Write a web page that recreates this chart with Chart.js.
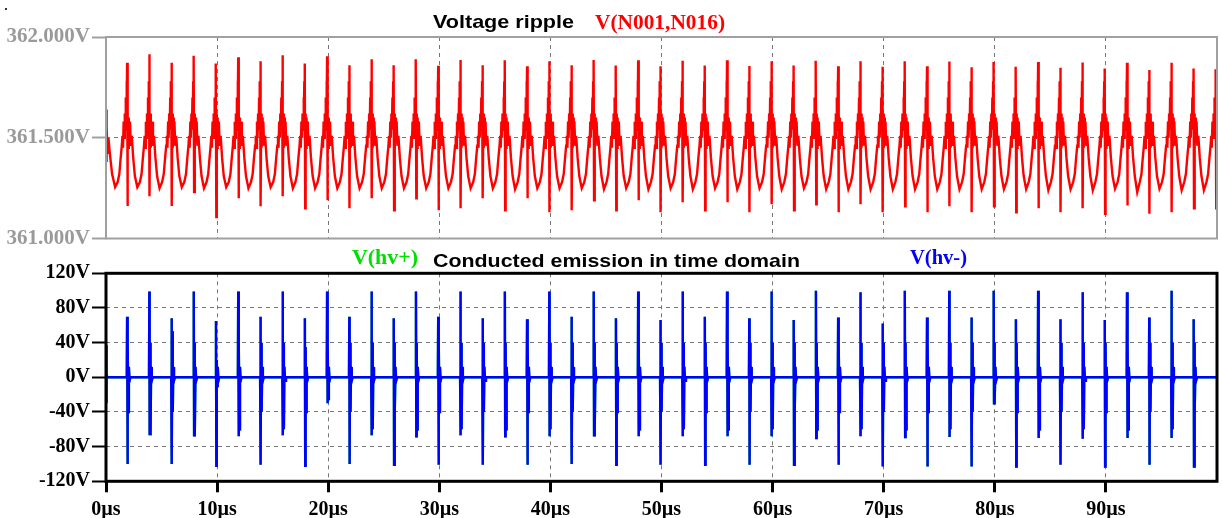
<!DOCTYPE html>
<html><head><meta charset="utf-8">
<script src="https://cdn.jsdelivr.net/npm/chart.js@4/dist/chart.umd.min.js"></script>
<style>
html,body{margin:0;padding:0;background:#fff;width:1222px;height:518px;overflow:hidden;position:relative;}
canvas{position:absolute;left:0;}
#c1{top:0;} #c2{top:245px;}
.lbl{position:absolute;white-space:nowrap;line-height:1;transform-origin:0 0;margin:0;padding:0;}
</style></head><body>
<canvas id="c1" width="1222" height="262"></canvas>
<canvas id="c2" width="1222" height="273"></canvas>
<div style="position:absolute;left:5px;top:8px;width:2px;height:2px;background:#333"></div>
<script>
// ---------------- DATA ----------------
// times of the switching events (µs)
const spikeTimes = [1.9,3.9,5.9,7.9,9.9,11.9,13.9,15.9,17.9,19.9,21.9,23.9,25.9,27.9,29.9,31.9,33.9,35.9,37.9,39.9,
  41.9,43.9,45.9,47.9,49.9,51.9,53.9,55.9,57.9,59.9,61.9,63.9,65.9,67.9,69.9,71.9,73.9,75.9,77.9,79.9,
  81.9,83.9,85.9,87.9,89.9,91.9,93.9,95.9,97.9,99.9];

// Voltage ripple V(N001,N016): peak, negative dip, valley before each event (V)
const ripplePeak = [361.872,361.915,361.872,361.907,361.869,361.900,361.880,361.910,361.869,361.905,
  361.860,361.889,361.860,361.889,361.857,361.886,361.860,361.884,361.855,361.880,
  361.860,361.886,361.858,361.884,361.855,361.882,361.858,361.884,361.856,361.880,
  361.858,361.882,361.855,361.880,361.852,361.880,361.855,361.878,361.850,361.876,
  361.852,361.876,361.848,361.874,361.844,361.872,361.836,361.872,361.844,361.840];
const rippleDip = [361.161,361.210,361.161,361.230,361.106,361.200,361.160,361.210,361.150,361.190,
  361.150,361.200,361.140,361.200,361.140,361.150,361.200,361.140,361.200,361.130,
  361.140,361.190,361.140,361.190,361.130,361.180,361.140,361.180,361.130,361.170,
  361.140,361.170,361.130,361.170,361.130,361.160,361.130,361.160,361.130,361.160,
  361.130,361.150,361.130,361.150,361.123,361.164,361.123,361.130,361.150,361.150];
const rippleValley = [361.255,361.255,361.250,361.255,361.250,361.255,361.250,361.255,361.250,361.250,
  361.250,361.250,361.250,361.250,361.250,361.250,361.250,361.250,361.245,361.250,
  361.250,361.250,361.245,361.250,361.245,361.250,361.245,361.250,361.245,361.250,
  361.245,361.250,361.245,361.245,361.245,361.245,361.245,361.245,361.245,361.245,
  361.245,361.245,361.240,361.245,361.240,361.247,361.230,361.247,361.240,361.240];
// one representative period of the ripple (offsets in µs from the event, volts)
const rippleStartT = [0, 0.03, 0.08, 0.14, 0.22, 0.35, 0.55];
const rippleStartV = [361.64, 361.38, 361.55, 361.42, 361.50, 361.42, 361.32];
const rippleRiseDt = [-0.85,-0.70,-0.58,-0.48,-0.42,-0.37,-0.31,-0.26,-0.21,-0.16,-0.12,-0.08,-0.05,-0.02];
const rippleRiseV  = [361.28,361.32,361.40,361.46,361.51,361.45,361.58,361.50,361.62,361.54,361.70,361.60,361.78,361.68];
const rippleFallDt = [0.07,0.11,0.15,0.20,0.26,0.33,0.42,0.55,0.70];
const rippleFallV  = [361.62,361.45,361.60,361.48,361.58,361.46,361.51,361.40,361.31];

// Conducted emission V(hv-): positive and negative spike extremes, ringing band (V)
const hvPos = [70,99,68,99,65,99,70,99,68,99, 70,99,68,99,70,99,68,99,67,99,
  70,99,68,99,66,99,70,99,68,99, 66,100,69,98,62,100,69,100,69,100,
  67,100,67,98,66,98,69,100,67];
const hvNeg = [-100,-67,-100,-67,-102,-68,-101,-67,-102,-30, -100,-67,-101,-68,-101,-67,-101,-68,-101,-68,
  -100,-67,-101,-68,-101,-68,-101,-68,-101,-68, -101,-70,-101,-68,-103,-69,-103,-69,-103,-30,
  -103,-70,-101,-71,-103,-70,-101,-70,-103];
const hvRingHi = [40,40,53,40,20,40,40,40,35,40, 40,40,40,40,40,40,40,40,40,40,
  40,40,40,40,40,40,40,40,40,40, 40,40,40,40,40,40,40,40,40,40,
  40,40,40,40,40,40,40,40,40];
const hvRingLo = [-40,-67,-40,-67,-10,-60,-40,-60,-40,-25, -40,-60,-40,-60,-40,-60,-40,-60,-40,-60,
  -40,-60,-40,-60,-40,-60,-40,-60,-40,-60, -40,-60,-40,-60,-40,-60,-40,-60,-40,-25,
  -40,-60,-40,-60,-40,-60,-40,-60,-40];
const hvStartT = [0, 0.02, 0.06, 0.12];
const hvStartV = [37, -30, 4, 0];
const spikeShapeDt = [-0.03, 0, 0.03, 0.07, 0.11, 0.16, 0.22, 0.30];

// axis ticks
const rippleTicks = [361.0, 361.5, 362.0];
const hvTicks = [-120,-80,-40,0,40,80,120];
const timeTicks = [0,10,20,30,40,50,60,70,80,90];

// ---------------- build datasets ----------------
const ripplePts = [];
rippleStartT.forEach((t,i)=>ripplePts.push({x:t,y:rippleStartV[i]}));
spikeTimes.forEach((ts,k)=>{
  ripplePts.push({x:ts-1.08, y:rippleValley[k]});
  rippleRiseDt.forEach((d,i)=>ripplePts.push({x:ts+d, y:rippleRiseV[i]}));
  ripplePts.push({x:ts, y:ripplePeak[k]});
  ripplePts.push({x:ts+0.03, y:rippleDip[k]});
  rippleFallDt.forEach((d,i)=>ripplePts.push({x:ts+d, y:rippleFallV[i]}));
});

const hvPts = [];
hvStartT.forEach((t,i)=>hvPts.push({x:t,y:hvStartV[i]}));
hvPos.forEach((p,k)=>{
  const ts = spikeTimes[k];
  const vals = [0, p, hvNeg[k], hvRingHi[k], hvRingLo[k], 12, -4, 0];
  spikeShapeDt.forEach((d,i)=>hvPts.push({x:ts+d, y:vals[i]}));
});
hvPts.push({x:100, y:0});

// ---------------- helpers ----------------
const SERIF = '"Liberation Serif","Times New Roman",serif';
const SANS = '"Liberation Sans",Arial,sans-serif';
function frame(color, width){
  return {id:'frame'+color.replace('#',''), afterDraw(chart){
    const a = chart.chartArea, c = chart.ctx;
    c.save(); c.strokeStyle=color; c.lineWidth=width;
    c.strokeRect(a.left, a.top, a.right-a.left, a.bottom-a.top);
    c.restore();
  }};
}
function fixTicks(values){ return s => { s.ticks = values.map(v=>({value:v})); }; }

// ---------------- top chart ----------------
new Chart(document.getElementById('c1'), {
  type:'line',
  data:{datasets:[{label:'V(N001,N016)', data:ripplePts, borderColor:'#ff0000', borderWidth:2.4,
    pointRadius:0, tension:0, fill:false}]},
  options:{
    responsive:false, animation:false, events:[],
    layout:{padding:{top:37,left:0,right:5,bottom:23.5}},
    plugins:{legend:{display:false}, tooltip:{enabled:false}},
    scales:{
      x:{type:'linear', min:0, max:100,
        afterBuildTicks: fixTicks(timeTicks),
        afterFit: s=>{ s.height = 0; },
        ticks:{display:false},
        grid:{color:'#777', lineWidth:1, drawTicks:false},
        border:{display:false, dash:[4,4]}},
      y:{type:'linear', min:361, max:362,
        afterBuildTicks: fixTicks(rippleTicks),
        afterFit: s=>{ s.width = 106; },
        ticks:{color:'#9a9a9a', padding:2, font:{family:SERIF, size:21, weight:'bold'},
          callback:v=>v.toFixed(3)+'V'},
        grid:{color:'#777', lineWidth:1, tickLength:14, tickColor:'#a0a0a0', tickWidth:2},
        border:{display:false, dash:[4,4]}}
    }
  },
  plugins:[frame('#a0a0a0',2)]
});

// ---------------- bottom chart ----------------
// Chart.js paints the first dataset last (on top): V(hv-) covers V(hv+)
new Chart(document.getElementById('c2'), {
  type:'line',
  data:{datasets:[
    {label:'V(hv-)', data:hvPts, borderColor:'#0000ff', borderWidth:2.4, pointRadius:0, tension:0, fill:false},
    {label:'V(hv+)', data:hvPts, borderColor:'#00e000', borderWidth:2.4, pointRadius:0, tension:0, fill:false}]},
  options:{
    responsive:false, animation:false, events:[],
    layout:{padding:{top:28.3,left:0,right:5,bottom:0}},
    plugins:{legend:{display:false}, tooltip:{enabled:false}},
    scales:{
      x:{type:'linear', min:0, max:100,
        afterBuildTicks: fixTicks(timeTicks),
        afterFit: s=>{ s.height = 36.7; },
        ticks:{color:'#000', padding:6, maxRotation:0, font:{family:SERIF, size:20, weight:'bold'},
          callback:v=>v+'µs'},
        grid:{color:'#777', lineWidth:1, tickLength:11, tickColor:'#000', tickWidth:3},
        border:{display:false, dash:[4,4]}},
      y:{type:'linear', min:-120, max:120,
        afterBuildTicks: fixTicks(hvTicks),
        afterFit: s=>{ s.width = 106; },
        ticks:{color:'#000', padding:2, font:{family:SERIF, size:20, weight:'bold'},
          callback:v=>v+'V'},
        grid:{color:'#777', lineWidth:1, tickLength:14, tickColor:'#000', tickWidth:2},
        border:{display:false, dash:[4,4]}}
    }
  },
  plugins:[frame('#000',3)]
});

// ---------------- titles (HTML text) ----------------
function place(text, x, top, w, size, family, color){
  const s = document.createElement('div');
  s.className='lbl'; s.textContent=text;
  s.style.fontFamily=family; s.style.fontWeight='bold'; s.style.fontSize=size+'px';
  s.style.color=color; s.style.left=x+'px'; s.style.top=top+'px';
  document.body.appendChild(s);
  const nat = s.getBoundingClientRect().width;
  s.style.transform = 'scaleX('+(w/nat)+')';
}
place('Voltage ripple', 433, 12.6, 141, 18.6, SANS, '#000');
place('V(N001,N016)', 595, 11.6, 130, 20, SERIF, '#ff0000');
place('V(hv+)', 352, 247, 66, 21, SERIF, '#00e000');
place('Conducted emission in time domain', 433, 252, 367, 18.6, SANS, '#000');
place('V(hv-)', 910, 247, 57, 21, SERIF, '#0000ff');
</script>
</body></html>
